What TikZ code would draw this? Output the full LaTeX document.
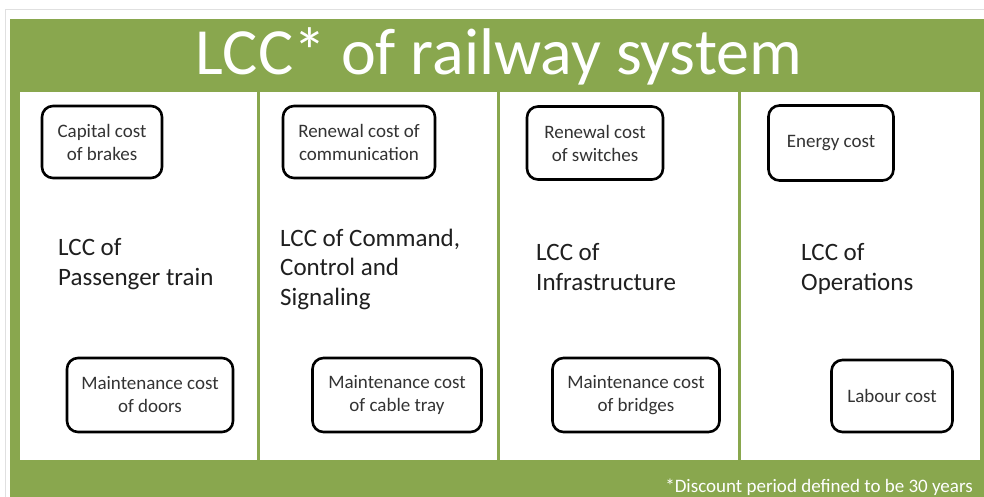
\documentclass[tikz,border=0pt]{standalone}
\usepackage{fontspec}
\setmainfont{Carlito}
\usepackage{tikz}
\definecolor{lccgreen}{RGB}{137,167,78}

\begin{document}
\begin{tikzpicture}[x=1pt, y=-1pt,
  cost/.style={draw=black, line width=2.6pt, rounded corners=11pt, fill=white, align=center, text=black!80, font=\fontsize{19}{23}\selectfont, inner sep=2pt},
  lcc/.style={align=left, anchor=base west, inner sep=0pt, text=black!88, font=\fontsize{25}{29.5}\selectfont},
  panel/.style={fill=white}]
\useasboundingbox (0,0) rectangle (984,497);
\fill[white] (0,0) rectangle (984,497);
\draw[black!12, line width=1pt] (5,497) -- (5,10) -- (984,10);
\fill[lccgreen] (10,19) rectangle (984,497);
\fill[panel] (20,92) rectangle (257,460);
\fill[panel] (260,92) rectangle (497,460);
\fill[panel] (500,92) rectangle (738,460);
\fill[panel] (741,92) rectangle (980,460);
\node[text=white, font=\fontsize{66}{70}\selectfont, anchor=base] (title) at (499,75) {LCC* of railway system};
\node[text=white, font=\fontsize{19}{22}\selectfont, anchor=base east, inner sep=0pt] (note) at (973,492) {*Discount period defined to be 30 years};
\node[lcc] (train) at (58,285) {LCC of\\Passenger train};
\node[lcc] (ccs) at (280,305) {LCC of Command,\\Control and\\Signaling};
\node[lcc] (infra) at (536,290) {LCC of\\Infrastructure};
\node[lcc] (ops) at (801,290) {LCC of\\Operations};
\node[cost, minimum width=120pt, minimum height=72pt] (brakes) at (102,142) {Capital cost\\of brakes};
\node[cost, minimum width=152pt, minimum height=72pt] (comm) at (359,142) {Renewal cost of\\communication};
\node[cost, minimum width=136pt, minimum height=73pt] (switches) at (595,143) {Renewal cost\\of switches};
\node[cost, minimum width=125pt, minimum height=75pt] (energy) at (831,143) {Energy cost};
\node[cost, minimum width=166pt, minimum height=74pt] (doors) at (150,395) {Maintenance cost\\of doors};
\node[cost, minimum width=169pt, minimum height=74pt] (tray) at (397,395) {Maintenance cost\\of cable tray};
\node[cost, minimum width=167pt, minimum height=74pt] (bridges) at (636,395) {Maintenance cost\\of bridges};
\node[cost, minimum width=121pt, minimum height=72pt] (labour) at (892,396) {Labour cost};
\end{tikzpicture}
\end{document}
